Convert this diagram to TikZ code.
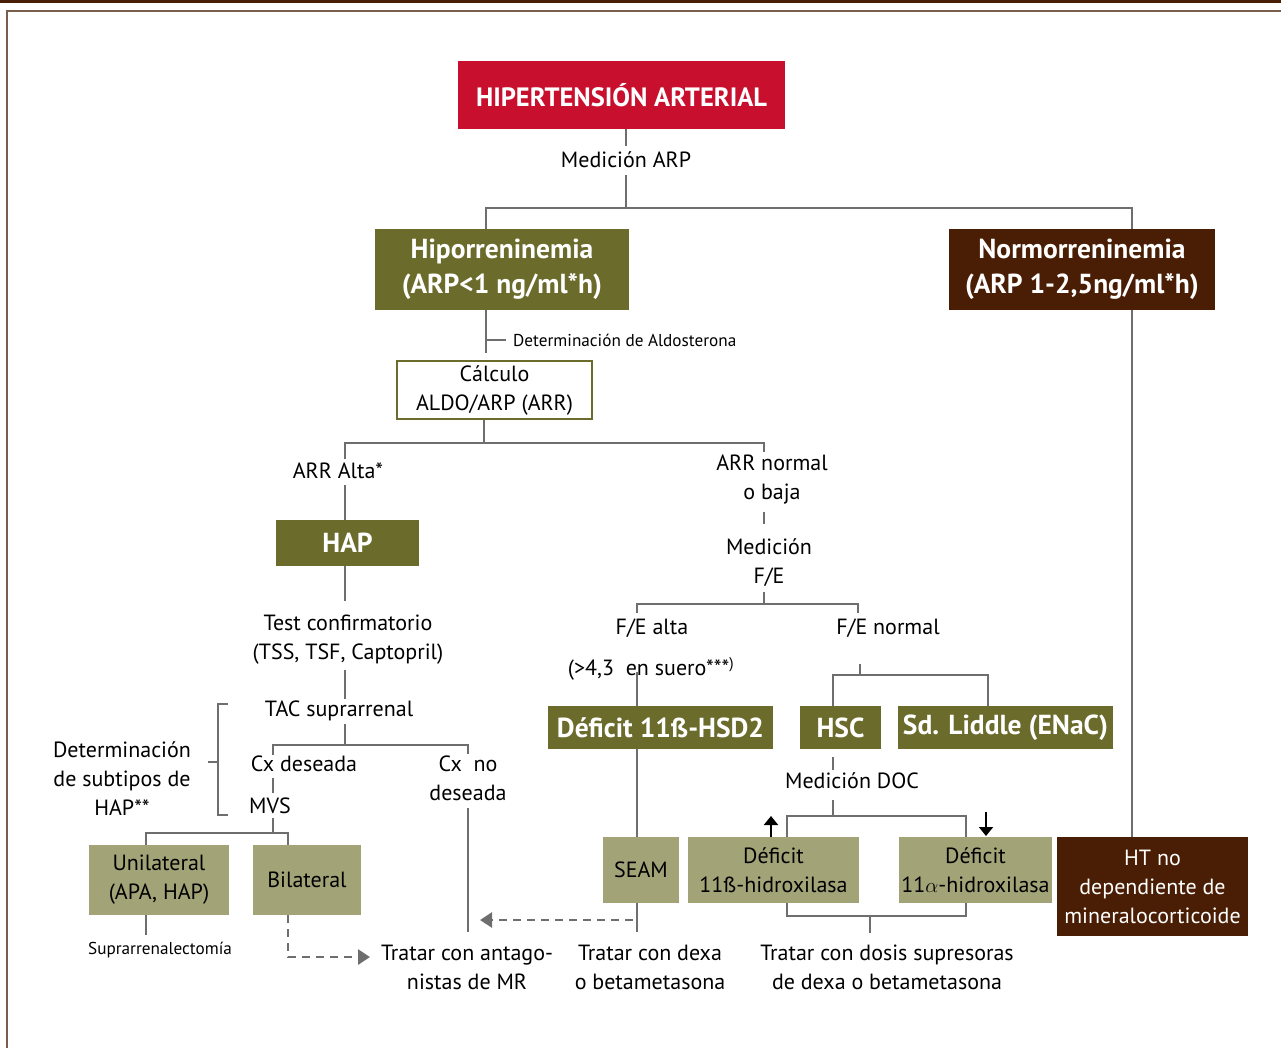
\documentclass[tikz,border=0pt]{standalone}
\usepackage{fontspec}
\setmainfont{PT Sans}
\usetikzlibrary{arrows.meta,calc}
\definecolor{hred}{HTML}{C8102E}
\definecolor{olive}{HTML}{6B6B2B}
\definecolor{khaki}{HTML}{A3A378}
\definecolor{dbrown}{HTML}{4A1E04}
\definecolor{lgray}{HTML}{6E6E6E}
\definecolor{framec}{HTML}{7A5E4C}
\begin{document}
\begin{tikzpicture}[x=1pt,y=-1pt,
 box/.style={rectangle, inner sep=0pt, align=center},
 big/.style={box, text=white, font=\bfseries\fontsize{27.5}{35}\selectfont},
 soft/.style={box, fill=khaki, text=black, font=\fontsize{22}{29}\selectfont},
 txt/.style={inner sep=0pt, align=center, font=\fontsize{22}{29}\selectfont},
 small/.style={inner sep=0pt, font=\fontsize{17.2}{20}\selectfont},
 conn/.style={draw=lgray, line width=2.8pt},
 dconn/.style={conn, dash pattern=on 8pt off 6pt},
 darrow/.style={-{Triangle[length=12pt,width=15pt]}},
 karrow/.style={draw=black, line width=2pt, -{Triangle[length=9pt,width=14pt]}},
]
\useasboundingbox (0,0) rectangle (1281,1048);
\fill[dbrown] (0,0) rectangle (1281,3);
\draw[framec, line width=2pt] (7,1048) -- (7,11) -- (1281,11);

% boxes
\node[big, fill=hred, minimum width=327pt, minimum height=68pt, font=\bfseries\fontsize{26.5}{30}\selectfont] (hta) at (621.5,95) {HIPERTENSIÓN ARTERIAL};
\node[big, fill=olive, minimum width=254pt, minimum height=81pt] (hipo) at (502,269.5) {Hiporreninemia\\(ARP<1 ng/ml*h)};
\node[big, fill=dbrown, minimum width=266pt, minimum height=81pt] (normo) at (1082,269.5) {Normorreninemia\\(ARP 1-2,5ng/ml*h)};
\node[box, draw=olive, line width=2pt, fill=white, minimum width=195pt, minimum height=58pt, font=\fontsize{22}{29}\selectfont] (calc) at (494.5,390) {Cálculo\\ALDO/ARP (ARR)};
\node[big, fill=olive, minimum width=143pt, minimum height=46pt] (hap) at (347.5,543) {HAP};
\node[big, fill=olive, minimum width=225pt, minimum height=43pt] (hsd) at (660.5,727.5) {Déficit 11ß-HSD2};
\node[big, fill=olive, minimum width=81pt, minimum height=43pt] (hsc) at (840.5,727.5) {HSC};
\node[big, fill=olive, minimum width=215pt, minimum height=43pt] (liddle) at (1005.5,727.5) {Sd. Liddle (ENaC)};
\node[soft, minimum width=140pt, minimum height=70pt] (uni) at (159,880) {Unilateral\\(APA, HAP)};
\node[soft, minimum width=108pt, minimum height=70pt] (bil) at (307,880) {Bilateral};
\node[soft, minimum width=76pt, minimum height=66pt] (seam) at (641,870) {SEAM};
\node[soft, minimum width=171pt, minimum height=66pt] (d11b) at (773.5,870) {Déficit\\11ß-hidroxilasa};
\node[soft, minimum width=153pt, minimum height=66pt] (d11a) at (975.5,870) {Déficit\\11$\alpha$-hidroxilasa};
\node[box, fill=dbrown, text=white, minimum width=191pt, minimum height=99pt, font=\fontsize{22}{29}\selectfont] (htno) at (1152.5,886.5) {HT no\\dependiente de\\mineralocorticoide};

% texts
\node[txt] (mARP) at (626,160) {Medición ARP};
\node[small, anchor=west] (detAldo) at (513,340) {Determinación de Aldosterona};
\node[txt] (arrAlta) at (338,471) {ARR Alta*};
\node[txt] (arrNorm) at (772,480) {ARR normal\\o baja};
\node[txt] (testC) at (348,640) {Test confirmatorio\\(TSS, TSF, Captopril)};
\node[txt] (tac) at (339,711) {TAC suprarrenal};
\node[txt] (cxDes) at (304,764) {Cx deseada};
\node[txt] (cxNo) at (468,778) {Cx\ \ no\\deseada};
\node[txt] (mvs) at (270,806) {MVS};
\node[txt] (detSub) at (122,779) {Determinación\\de subtipos de\\HAP**};
\node[small] (supra) at (160,950) {Suprarrenalectomía};
\node[txt] (tratMR) at (467,967) {Tratar con antago-\\nistas de MR};
\node[txt] (medFE) at (769,563) {Medición\\F/E};
\node[txt] (feAlta) at (652,628) {F/E alta};
\node[txt] (feNorm) at (888,628) {F/E normal};
\node[txt] (suero) at (651,669) {(>4,3\ \ en suero***\textsuperscript{)}};
\node[txt] (medDOC) at (852,781) {Medición DOC};
\node[txt] (tratDexa) at (650,967) {Tratar con dexa\\o betametasona};
\node[txt] (tratDosis) at (887,967) {Tratar con dosis supresoras\\de dexa o betametasona};

% connectors
\draw[conn] (626,129) -- (626,146);
\draw[conn] (626,175) -- (626,208);
\draw[conn] (486,229) -- (486,208) -- (1132,208) -- (1132,229);
\draw[conn] (486,310) -- (486,353);
\draw[conn] (486,340) -- (506,340);
\draw[conn] (484,420) -- (484,443);
\draw[conn] (345,459) -- (345,443) -- (764,443) -- (764,452);
\draw[conn] (345,485) -- (345,520);
\draw[conn] (345,566) -- (345,601);
\draw[conn] (345,670) -- (345,699);
\draw[conn] (345,724) -- (345,745);
\draw[conn] (273,755) -- (273,745) -- (468,745) -- (468,754);
\draw[conn] (273,778) -- (273,793);
\draw[conn] (273,818) -- (273,833);
\draw[conn] (146,845) -- (146,833) -- (288,833) -- (288,845);
\draw[conn] (146,915) -- (146,935);
\draw[conn] (228,704) -- (218,704) -- (218,815) -- (228,815);
\draw[conn] (208,762) -- (218,762);
\draw[dconn, darrow] (288,915) -- (288,957) -- (370,957);
\draw[conn] (468,808) -- (468,932);
\draw[dconn, darrow] (633,920) -- (480,920);
\draw[conn] (764,512) -- (764,524);
\draw[conn] (764,592) -- (764,604);
\draw[conn] (637,613) -- (637,604) -- (858,604) -- (858,613);
\draw[conn] (637,672) -- (637,706);
\draw[conn] (637,749) -- (637,837);
\draw[conn] (637,903) -- (637,932);
\draw[conn] (860,664) -- (860,675);
\draw[conn] (833,706) -- (833,675) -- (988,675) -- (988,706);
\draw[conn] (833,757) -- (833,770);
\draw[conn] (833,800) -- (833,816);
\draw[conn] (787,837) -- (787,816) -- (966,816) -- (966,837);
\draw[conn] (787,903) -- (787,916) -- (966,916) -- (966,903);
\draw[conn] (870,916) -- (870,933);
\draw[conn] (1132,310) -- (1132,837);
\draw[karrow] (771,837) -- (771,816);
\draw[karrow] (986,812) -- (986,836);
\end{tikzpicture}
\end{document}
